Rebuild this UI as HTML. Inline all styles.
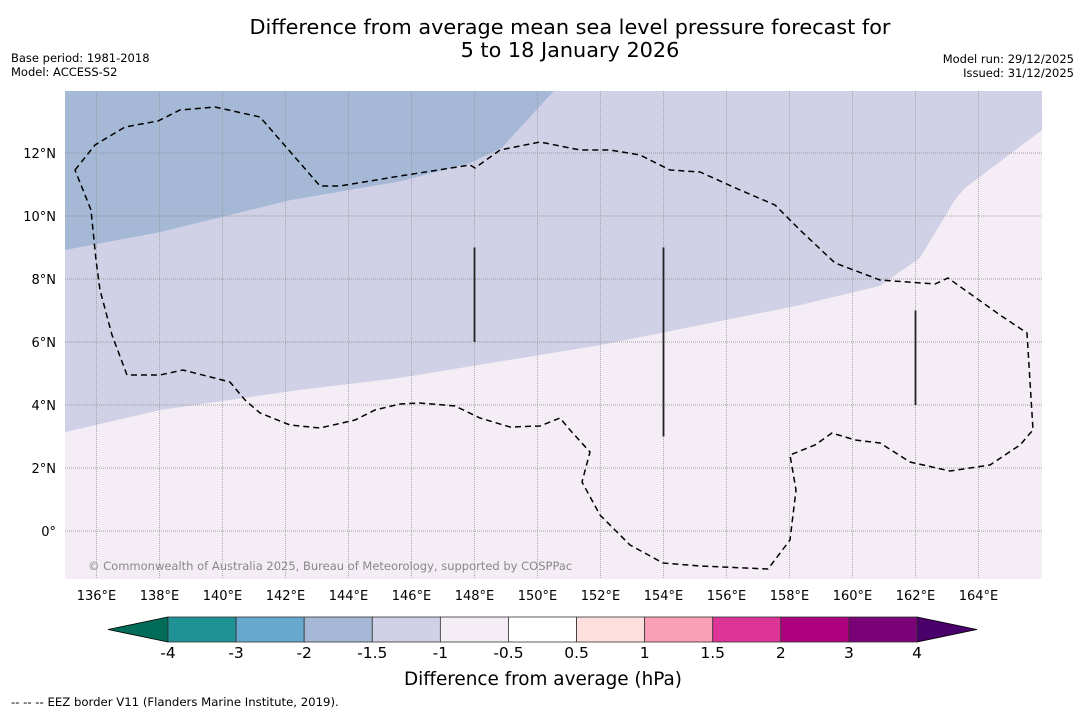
<!DOCTYPE html>
<html><head><meta charset="utf-8">
<style>
body{margin:0;background:#fff;width:1085px;height:713px;overflow:hidden;font-family:"DejaVu Sans","Liberation Sans",sans-serif;}
svg text{font-family:"DejaVu Sans","Liberation Sans",sans-serif;}
</style></head>
<body>
<svg id="chart" width="1085" height="713">
<text x="570" y="34" text-anchor="middle" font-size="20.8">Difference from average mean sea level pressure forecast for</text>
<text x="570" y="57" text-anchor="middle" font-size="20.8">5 to 18 January 2026</text>
<text x="11" y="62" font-size="11.5">Base period: 1981-2018</text>
<text x="11" y="76" font-size="11.5">Model: ACCESS-S2</text>
<text x="1074" y="63" font-size="11.5" text-anchor="end">Model run: 29/12/2025</text>
<text x="1074" y="77" font-size="11.5" text-anchor="end">Issued: 31/12/2025</text>
<g id="map"></g>
<g id="cbar"></g>
<text x="543" y="685" text-anchor="middle" font-size="18.4">Difference from average (hPa)</text>
<text x="11" y="706" font-size="11.7">--  --  -- EEZ border V11 (Flanders Marine Institute, 2019).</text>
</svg>
<script>
const lonTicks=[136,138,140,142,144,146,148,150,152,154,156,158,160,162,164];
const latTicks=[0,2,4,6,8,10,12];
const band2Lon=[135,138.02,142.14,145.63,147.86,148.86,150.52];
const band2Lat=[8.92,9.49,10.5,11.1,11.68,12.16,13.97];
const band15Lon=[135,138.02,142.46,145.63,151.98,158.33,160.87,162.14,163.25,163.57,166.02];
const band15Lat=[3.14,3.84,4.48,4.86,5.9,7.17,7.78,8.67,10.51,10.89,12.73];
const cbBounds=["-4","-3","-2","-1.5","-1","-0.5","0.5","1","1.5","2","3","4"];
const cbColors=["#1f9296","#67a8cf","#a5b9d7","#d0d1e6","#f4edf5","#ffffff","#fde0dd","#fa9fb5","#dd3497","#ae017e","#7a0177"];
const NS="http://www.w3.org/2000/svg";
const X0=65,X1=1042,Y0=91,Y1=579,LON0=135,LAT0=0,Y_LAT0=531,PPD=31.5;
const xs=lon=>X0+(lon-LON0)*PPD;
const ys=lat=>Y_LAT0-(lat-LAT0)*PPD;
function mk(t,a,p){const e=document.createElementNS(NS,t);for(const k in a)e.setAttribute(k,a[k]);p.appendChild(e);return e;}
const map=document.getElementById('map');
let bg=mk('rect',{x:X0,y:Y0,width:X1-X0,height:Y1-Y0,fill:'#f4edf5'},map);


let p15='M'+X0+','+Y0+' '+band15Lon.map((l,i)=>xs(l)+','+ys(band15Lat[i])).join(' ')+' L'+X1+','+Y0+' Z';
let b15=mk('path',{d:p15,fill:'#d0d1e6'},map);


let p2='M'+X0+','+Y0+' '+band2Lon.map((l,i)=>xs(l)+','+ys(band2Lat[i])).join(' ')+' Z';
let b2=mk('path',{d:p2,fill:'#a5b9d7'},map);


lonTicks.forEach(l=>{const x=xs(l);
 let g=mk('line',{x1:x,x2:x,y1:Y0,y2:Y1,stroke:'#999',"stroke-width":0.8,"stroke-dasharray":"1,1"},map);
 
 
 let t=mk('text',{x:x,y:600,"text-anchor":"middle","font-size":13},map);t.textContent=l+'°E';
 
 
});
latTicks.forEach(l=>{const y=ys(l);
 let g=mk('line',{x1:X0,x2:X1,y1:y,y2:y,stroke:'#888',"stroke-width":0.8,"stroke-dasharray":"1,1"},map);
 
 
 let t=mk('text',{x:56,y:y+5,"text-anchor":"end","font-size":13},map);t.textContent=l===0?'0°':l+'°N';
 
 
});
const eez="M75,170 L95,145 L125,127 L158,121 L180,110 L215,107 L260,117 L320,186 L340,186 L400,176 L470,165 L475,168 L500,150 L540,142 L580,150 L610,150 L640,155 L670,170 L700,172 L740,190 L775,205 L800,230 L835,263 L880,280 L935,284 L948,278 L1000,315 L1027,333 L1033,430 L1020,445 L990,465 L950,471 L910,462 L880,443 L855,440 L832,433 L815,445 L790,455 L796,490 L790,540 L768,569 L700,566 L663,563 L630,545 L600,515 L582,482 L590,452 L570,430 L560,418 L540,426 L510,427 L480,418 L455,406 L420,403 L400,404 L375,410 L355,420 L320,428 L290,425 L260,413 L245,400 L230,382 L183,370 L160,375 L127,375 L112,335 L100,290 L96,260 L91,210 Z";
let ez=mk('path',{d:eez,fill:'none',stroke:'#000',"stroke-width":1.5,"stroke-dasharray":"6,4"},map);


[[148,6,9],[154,3,9],[162,4,7]].forEach(v=>{
 let l=mk('line',{x1:xs(v[0]),x2:xs(v[0]),y1:ys(v[2]),y2:ys(v[1]),stroke:'#222',"stroke-width":1.8},map);
 
 
});
let cp=mk('text',{x:88,y:570,"font-size":11.5,fill:'#888'},map);cp.textContent='© Commonwealth of Australia 2025, Bureau of Meteorology, supported by COSPPac';


const cb=document.getElementById('cbar');
const CB0=168,CB1=917,CBY=617,CBH=25,seg=(CB1-CB0)/cbColors.length;
let lt=mk('polygon',{points:`108,${CBY+CBH/2} ${CB0},${CBY} ${CB0},${CBY+CBH}`,fill:'#016c59',stroke:'#000',"stroke-width":0.8},cb);


let rt=mk('polygon',{points:`977,${CBY+CBH/2} ${CB1},${CBY} ${CB1},${CBY+CBH}`,fill:'#49006a',stroke:'#000',"stroke-width":0.8},cb);


cbColors.forEach((c,i)=>{
 let r=mk('rect',{x:CB0+i*seg,y:CBY,width:seg,height:CBH,fill:c,stroke:'#333',"stroke-width":0.8},cb);
 
 
});
cbBounds.forEach((b,i)=>{
 let t=mk('text',{x:CB0+i*seg,y:658,"text-anchor":"middle","font-size":15.5},cb);t.textContent=b;
 
 
});
</script>
</body></html>
